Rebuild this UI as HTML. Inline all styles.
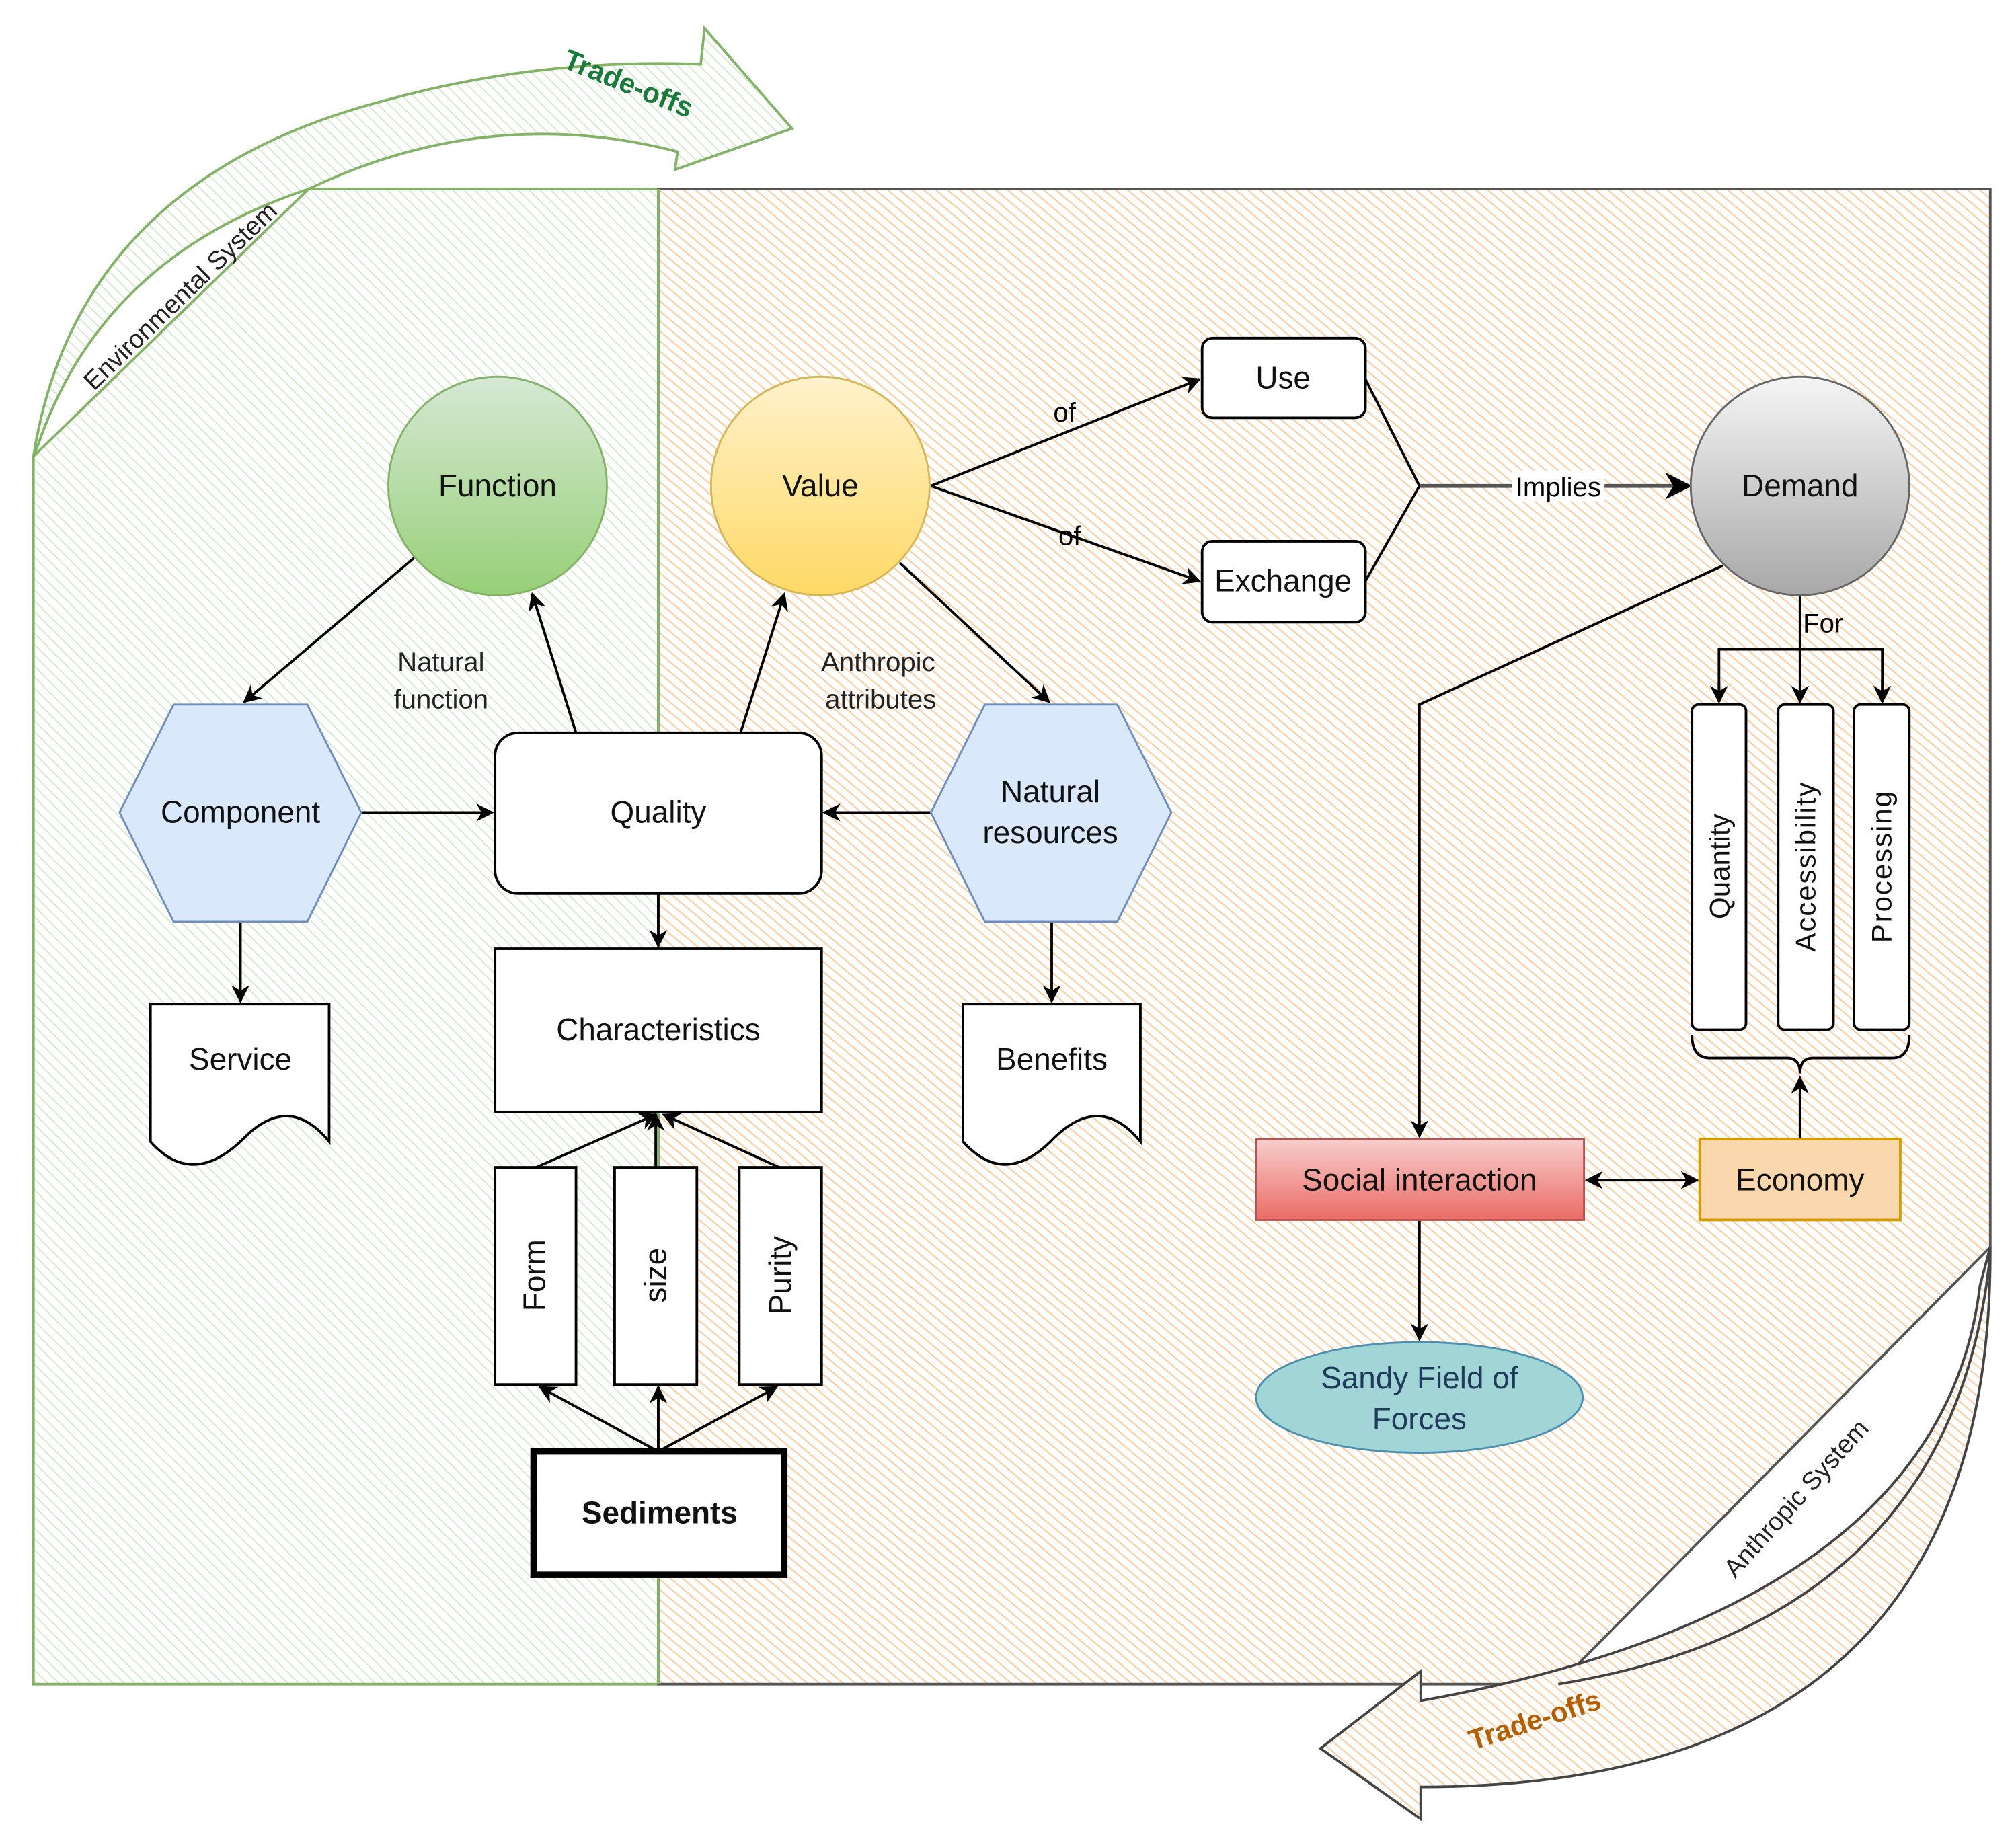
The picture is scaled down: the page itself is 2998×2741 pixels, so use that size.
<!DOCTYPE html>
<html><head><meta charset="utf-8"><style>html,body{margin:0;padding:0;background:#fff}svg{display:block}</style></head>
<body>
<svg width="2998" height="2741" viewBox="0 0 1568 1433.6" preserveAspectRatio="none" xmlns="http://www.w3.org/2000/svg" font-family="Liberation Sans, sans-serif">
<defs>
<pattern id="hg" width="6" height="6" patternUnits="userSpaceOnUse" patternTransform="rotate(-45)"><rect width="6" height="6" fill="#fff"/><line x1="0" y1="0" x2="0" y2="6" stroke="#d6e8cf" stroke-width="2"/></pattern>
<pattern id="ho" width="6" height="6" patternUnits="userSpaceOnUse" patternTransform="rotate(-50)"><rect width="6" height="6" fill="#fff"/><line x1="0" y1="0" x2="0" y2="6" stroke="#fbcfa5" stroke-width="2.4"/></pattern>
<linearGradient id="gg" x1="0" y1="0" x2="0" y2="1"><stop offset="0" stop-color="#d5e8d4"/><stop offset="1" stop-color="#97d077"/></linearGradient>
<linearGradient id="gy" x1="0" y1="0" x2="0" y2="1"><stop offset="0" stop-color="#fff2cc"/><stop offset="1" stop-color="#ffd966"/></linearGradient>
<linearGradient id="gs" x1="0" y1="0" x2="0" y2="1"><stop offset="0" stop-color="#f5f5f5"/><stop offset="1" stop-color="#a8a8a8"/></linearGradient>
<linearGradient id="gr" x1="0" y1="0" x2="0" y2="1"><stop offset="0" stop-color="#f8cecc"/><stop offset="1" stop-color="#ea6b66"/></linearGradient>
<marker id="a" viewBox="0 0 10 10" refX="9" refY="5" markerWidth="7" markerHeight="7" orient="auto-start-reverse"><path d="M0,0 L10,5 L0,10 L3,5 Z" fill="#000"/></marker>
</defs>
<!-- top arrow band -->
<path d="M26,355 Q60,140 300,78 Q420,45 545,50 L548,22 L616,100 L525,132 L527,118 Q380,80 240,147 Q80,200 30,345 Z" fill="url(#hg)" stroke="#82b366" stroke-width="2"/>
<!-- panels -->
<path d="M26,355 L240,147 L512,147 L512,1310 L26,1310 Z" fill="url(#hg)" stroke="#82b366" stroke-width="2"/>
<path d="M512,147 L1548,147 L1548,970 L1212,1310 L512,1310 Z" fill="url(#ho)" stroke="#555" stroke-width="2"/>
<line x1="512" y1="147" x2="512" y2="1310" stroke="#82b366" stroke-width="2"/>
<!-- bottom arrow band -->
<path d="M1548,970 Q1550,1390 1105,1390 L1105,1415 L1027,1360 L1105,1300 L1105,1323 Q1510,1250 1540,1000 Z" fill="url(#ho)" stroke="#444" stroke-width="2"/>
<path d="M1212,1310 Q1520,1260 1548,975" fill="none" stroke="#444" stroke-width="2"/>
<text x="0" y="0" transform="translate(145,235) rotate(-44)" font-size="20" text-anchor="middle" fill="#222">Environmental System</text>
<text x="0" y="0" transform="translate(486,72) rotate(22)" font-size="22" font-weight="bold" text-anchor="middle" fill="#1a7a3a">Trade-offs</text>
<text x="0" y="0" transform="translate(1402,1170) rotate(-48)" font-size="20" text-anchor="middle" fill="#222">Anthropic System</text>
<text x="0" y="0" transform="translate(1196,1345) rotate(-18)" font-size="22" font-weight="bold" text-anchor="middle" fill="#b45f06">Trade-offs</text>
<!-- connectors -->
<g stroke="#000" stroke-width="2" fill="none">
<line x1="322" y1="434" x2="190" y2="546" marker-end="url(#a)"/>
<line x1="448" y1="570" x2="414" y2="462" marker-end="url(#a)"/>
<line x1="576" y1="570" x2="610" y2="462" marker-end="url(#a)"/>
<line x1="700" y1="438" x2="816" y2="546" marker-end="url(#a)"/>
<line x1="281" y1="632" x2="383" y2="632" marker-end="url(#a)"/>
<line x1="724" y1="632" x2="641" y2="632" marker-end="url(#a)"/>
<line x1="187" y1="717" x2="187" y2="779" marker-end="url(#a)"/>
<line x1="818" y1="717" x2="818" y2="779" marker-end="url(#a)"/>
<line x1="512" y1="695" x2="512" y2="736" marker-end="url(#a)"/>
<line x1="724" y1="378" x2="933" y2="295" marker-end="url(#a)"/>
<line x1="724" y1="378" x2="933" y2="452" marker-end="url(#a)"/>
<polyline points="1062,295 1104,378 1062,452"/>
<line x1="1104" y1="378" x2="1314" y2="378" stroke="#555" stroke-width="3" marker-end="url(#a)"/>
<polyline points="1340,440 1104,548 1104,884" marker-end="url(#a)"/>
<line x1="1400" y1="463" x2="1400" y2="546" marker-end="url(#a)"/>
<polyline points="1337,546 1337,505 1464,505 1464,546"/>
<line x1="1337" y1="530" x2="1337" y2="546" marker-end="url(#a)"/>
<line x1="1464" y1="530" x2="1464" y2="546" marker-end="url(#a)"/>
<path d="M1316,805 Q1316,823 1330,823 L1390,823 Q1400,823 1400,835 Q1400,823 1410,823 L1472,823 Q1485,823 1485,805"/>
<line x1="1400" y1="886" x2="1400" y2="838" marker-end="url(#a)"/>
<line x1="1234" y1="918" x2="1320" y2="918" marker-start="url(#a)" marker-end="url(#a)"/>
<line x1="1104" y1="949" x2="1104" y2="1042" marker-end="url(#a)"/>
<line x1="417" y1="908" x2="510" y2="867" marker-end="url(#a)"/>
<line x1="510" y1="908" x2="510" y2="867" marker-end="url(#a)"/>
<line x1="606" y1="908" x2="516" y2="867" marker-end="url(#a)"/>
<line x1="512" y1="1129" x2="420" y2="1079" marker-end="url(#a)"/>
<line x1="512" y1="1129" x2="512" y2="1079" marker-end="url(#a)"/>
<line x1="512" y1="1129" x2="604" y2="1079" marker-end="url(#a)"/>
</g>
<rect x="1176" y="366" width="72" height="24" fill="#fff"/>
<text x="1212" y="386" font-size="21" text-anchor="middle">Implies</text>
<text x="828" y="328" font-size="21" text-anchor="middle">of</text>
<text x="832" y="424" font-size="21" text-anchor="middle">of</text>
<text x="1418" y="492" font-size="21" text-anchor="middle">For</text>
<text x="343" y="522" font-size="21" text-anchor="middle" fill="#222">Natural</text>
<text x="343" y="551" font-size="21" text-anchor="middle" fill="#222">function</text>
<text x="683" y="522" font-size="21" text-anchor="middle" fill="#222">Anthropic</text>
<text x="685" y="551" font-size="21" text-anchor="middle" fill="#222">attributes</text>
<!-- nodes -->
<g font-size="24" text-anchor="middle" fill="#111">
<circle cx="387" cy="378" r="85" fill="url(#gg)" stroke="#82b366" stroke-width="1.5"/><text x="387" y="386">Function</text>
<circle cx="638" cy="378" r="85" fill="url(#gy)" stroke="#d6b656" stroke-width="1.5"/><text x="638" y="386">Value</text>
<circle cx="1400" cy="378" r="85" fill="url(#gs)" stroke="#666" stroke-width="1.5"/><text x="1400" y="386">Demand</text>
<rect x="935" y="263" width="127" height="62" rx="8" fill="#fff" stroke="#000" stroke-width="2"/><text x="998" y="302">Use</text>
<rect x="935" y="421" width="127" height="63" rx="8" fill="#fff" stroke="#000" stroke-width="2"/><text x="998" y="460">Exchange</text>
<polygon points="93,632 135,548 239,548 281,632 239,717 135,717" fill="#dae8fc" stroke="#6c8ebf" stroke-width="1.5"/><text x="187" y="640">Component</text>
<polygon points="724,632 766,548 869,548 911,632 869,717 766,717" fill="#dae8fc" stroke="#6c8ebf" stroke-width="1.5"/><text x="817" y="624">Natural</text><text x="817" y="656">resources</text>
<rect x="385" y="570" width="254" height="125" rx="18" fill="#fff" stroke="#000" stroke-width="2"/><text x="512" y="640">Quality</text>
<rect x="385" y="738" width="254" height="127" fill="#fff" stroke="#000" stroke-width="2"/><text x="512" y="809">Characteristics</text>
<path d="M117,781 L256,781 L256,888 Q225,850 190,885 Q150,925 117,888 Z" fill="#fff" stroke="#000" stroke-width="2"/><text x="187" y="832">Service</text>
<path d="M749,781 L887,781 L887,888 Q856,850 820,885 Q782,925 749,888 Z" fill="#fff" stroke="#000" stroke-width="2"/><text x="818" y="832">Benefits</text>
<rect x="385" y="908" width="63" height="169" fill="#fff" stroke="#000" stroke-width="2"/><text transform="translate(424,992) rotate(-90)">Form</text>
<rect x="478" y="908" width="64" height="169" fill="#fff" stroke="#000" stroke-width="2"/><text transform="translate(518,992) rotate(-90)">size</text>
<rect x="575" y="908" width="64" height="169" fill="#fff" stroke="#000" stroke-width="2"/><text transform="translate(615,992) rotate(-90)">Purity</text>
<rect x="415" y="1129" width="195" height="96" fill="#fff" stroke="#000" stroke-width="5"/><text x="513" y="1185" font-weight="bold">Sediments</text>
<rect x="1316" y="548" width="42" height="253" rx="5" fill="#fff" stroke="#000" stroke-width="2"/><text transform="translate(1345,674) rotate(-90)" font-size="22">Quantity</text>
<rect x="1383" y="548" width="43" height="253" rx="5" fill="#fff" stroke="#000" stroke-width="2"/><text transform="translate(1412,674) rotate(-90)" font-size="22" letter-spacing="1">Accessibility</text>
<rect x="1442" y="548" width="43" height="253" rx="5" fill="#fff" stroke="#000" stroke-width="2"/><text transform="translate(1471,674) rotate(-90)" font-size="22" letter-spacing="1">Processing</text>
<rect x="977" y="886" width="255" height="63" fill="url(#gr)" stroke="#b85450" stroke-width="1.5"/><text x="1104" y="926">Social interaction</text>
<rect x="1322" y="886" width="156" height="63" fill="#fad7ac" stroke="#d79b00" stroke-width="2"/><text x="1400" y="926">Economy</text>
<ellipse cx="1104" cy="1087" rx="127" ry="43" fill="#a2d5d6" stroke="#4a8fb0" stroke-width="1.5"/><text x="1104" y="1080" fill="#1f3a5a">Sandy Field of</text><text x="1104" y="1112" fill="#1f3a5a">Forces</text>
</g>
</svg>
</body></html>
